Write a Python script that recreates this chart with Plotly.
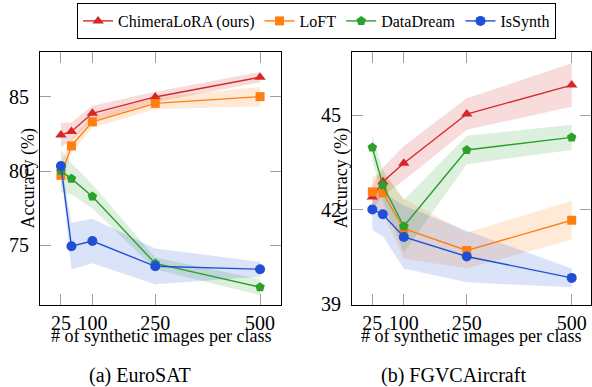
import plotly.graph_objects as go

x_vals = [25, 50, 100, 250, 500]
x_ticks = [25, 100, 250, 500]

series_names = ["ChimeraLoRA (ours)", "LoFT", "DataDream", "IsSynth"]
colors = ["#d62728", "#ff7f0e", "#2ca02c", "#1f4fd6"]
symbols = ["triangle-up", "square", "pentagon", "circle"]

# EuroSAT (left)
euro_chimera = [82.43, 82.66, 83.88, 84.98, 86.31]
euro_chimera_sd = [0.8, 0.6, 0.5, 0.35, 0.35]
euro_loft = [79.71, 81.69, 83.31, 84.55, 85.0]
euro_loft_sd = [0.9, 0.5, 0.4, 0.4, 0.65]
euro_datadream = [80.0, 79.49, 78.29, 73.79, 72.2]
euro_datadream_sd = [1.4, 1.05, 0.8, 0.4, 0.55]
euro_issynth = [80.34, 74.95, 75.3, 73.6, 73.4]
euro_issynth_sd = [0.3, 1.57, 1.5, 1.2, 0.5]

# FGVCAircraft (right)
fgvc_chimera = [42.4, 42.88, 43.47, 45.03, 45.95]
fgvc_chimera_sd = [0.4, 0.45, 0.55, 0.5, 0.69]
fgvc_loft = [42.56, 42.53, 41.39, 40.70, 41.66]
fgvc_loft_sd = [0.5, 0.64, 0.95, 0.56, 0.62]
fgvc_datadream = [43.97, 42.77, 41.47, 43.89, 44.29]
fgvc_datadream_sd = [0.4, 0.5, 0.83, 0.45, 0.4]
fgvc_issynth = [42.0, 41.85, 41.13, 40.51, 39.83]
fgvc_issynth_sd = [0.65, 0.7, 1.0, 0.82, 0.3]

euro = [(euro_chimera, euro_chimera_sd), (euro_loft, euro_loft_sd),
        (euro_datadream, euro_datadream_sd), (euro_issynth, euro_issynth_sd)]
fgvc = [(fgvc_chimera, fgvc_chimera_sd), (fgvc_loft, fgvc_loft_sd),
        (fgvc_datadream, fgvc_datadream_sd), (fgvc_issynth, fgvc_issynth_sd)]


def rgba(h, a):
    h = h.lstrip("#")
    return f"rgba({int(h[0:2],16)},{int(h[2:4],16)},{int(h[4:6],16)},{a})"


fig = go.Figure()
FONT = "Liberation Serif"
TICKFONT = "Times New Roman, Liberation Serif, serif"

for data, xa, ya, legend in [(euro, "x", "y", True), (fgvc, "x2", "y2", False)]:
    for (m, sd), c in zip(data, colors):
        up = [a + b for a, b in zip(m, sd)]
        lo = [a - b for a, b in zip(m, sd)]
        fig.add_trace(go.Scatter(
            x=x_vals + x_vals[::-1], y=up + lo[::-1], fill="toself",
            fillcolor=rgba(c, 0.16), line=dict(width=0), mode="lines",
            hoverinfo="skip", showlegend=False, xaxis=xa, yaxis=ya))
    for (m, sd), c, s, n in zip(data, colors, symbols, series_names):
        fig.add_trace(go.Scatter(
            x=x_vals, y=m, mode="lines+markers", name=n,
            line=dict(color=c, width=1.4),
            marker=dict(symbol=s, size=10 if s != "square" else 9, color=c,
                        line=dict(width=0)),
            showlegend=legend, xaxis=xa, yaxis=ya))

tick_font = dict(family=TICKFONT, size=20, color="black")
axis_common = dict(
    showline=True, linecolor="black", linewidth=1, mirror="allticks",
    ticks="inside", ticklen=11, tickcolor="#a0a0a0", tickwidth=1,
    showgrid=False, zeroline=False,
)

fig.update_layout(
    width=592, height=387,
    margin=dict(l=40, r=1, t=52, b=82),
    paper_bgcolor="white", plot_bgcolor="white",
    font=dict(family=FONT, color="black", size=20),
    xaxis=dict(domain=[0, 0.4374], range=[-25, 550], tickvals=x_ticks,
               tickfont=tick_font, **axis_common),
    yaxis=dict(domain=[0, 1], range=[71, 88], tickvals=[75, 80, 85],
               ticklabelstandoff=6, tickfont=tick_font, **axis_common),
    xaxis2=dict(domain=[0.5662, 1], range=[-23.5, 546], tickvals=x_ticks,
                anchor="y2", tickfont=tick_font, **axis_common),
    yaxis2=dict(domain=[0, 1], range=[38.97, 47.0], tickvals=[39, 42, 45],
                ticklabelstandoff=6, anchor="x2", tickfont=tick_font,
                **axis_common),
    legend=dict(orientation="h", x=0.502, xanchor="center",
                yref="container", y=1 - 3 / 387,
                yanchor="top", bordercolor="black", borderwidth=1,
                font=dict(family=FONT, size=16, color="black"),
                bgcolor="white", tracegroupgap=0, itemwidth=30),
    showlegend=True,
)

ann = []
for xp, text in [(0.219, "# of synthetic images per class"),
                 (0.783, "# of synthetic images per class")]:
    ann.append(dict(x=xp, y=-0.123, xref="paper", yref="paper", text=text,
                    showarrow=False, xanchor="center", yanchor="middle",
                    font=dict(family=FONT, size=18, color="black")))
for xp, text in [(-0.020, "Accuracy (%)"), (0.5476, "Accuracy (%)")]:
    ann.append(dict(x=xp, y=0.5, xref="paper", yref="paper", text=text,
                    showarrow=False, xanchor="center", yanchor="middle",
                    textangle=-90,
                    font=dict(family=FONT, size=18, color="black")))
for xp, text in [(0.182, "(a) EuroSAT"), (0.750, "(b) FGVCAircraft")]:
    ann.append(dict(x=xp, y=-0.279, xref="paper", yref="paper", text=text,
                    showarrow=False, xanchor="center", yanchor="middle",
                    font=dict(family=FONT, size=20, color="black")))
fig.update_layout(annotations=ann)

fig.write_html("out.html", config={"displayModeBar": False},
               post_script="document.body.style.margin='0';")
